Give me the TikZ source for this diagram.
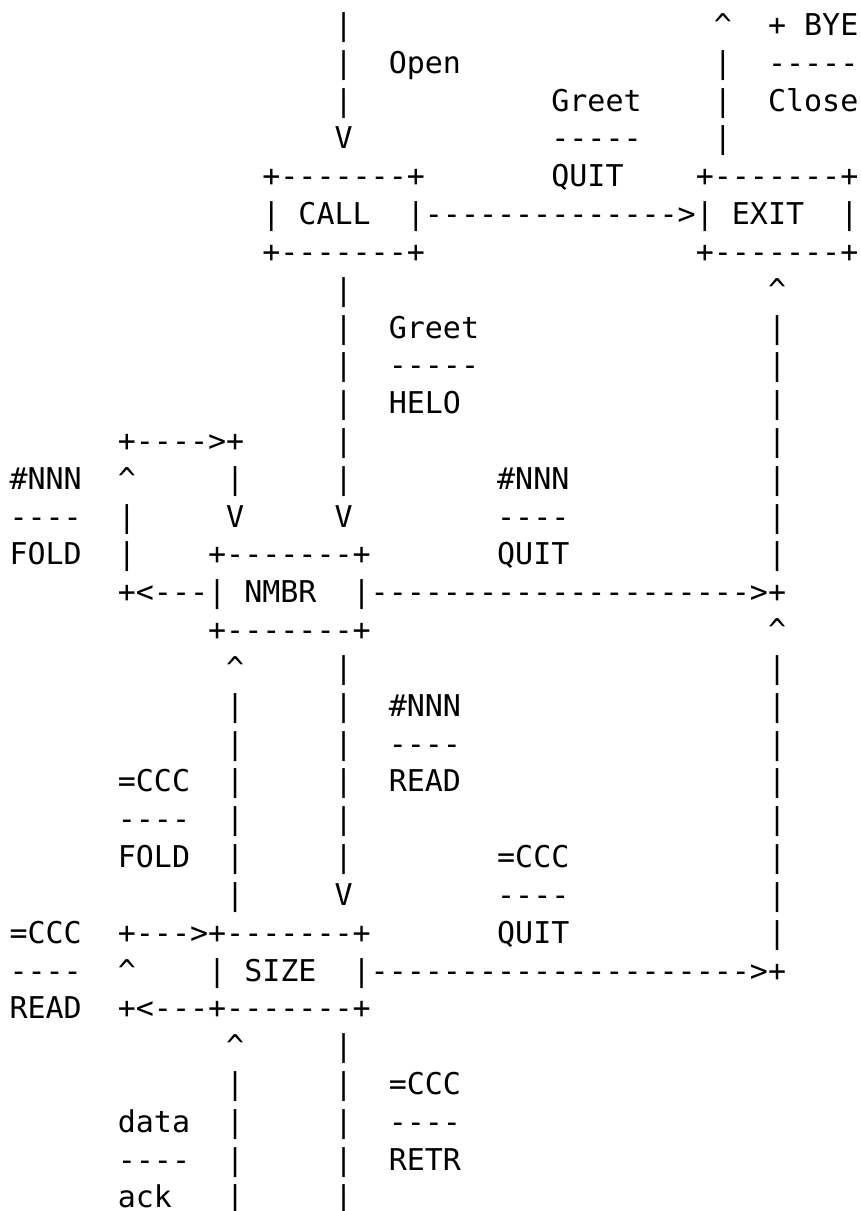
\documentclass[tikz,border=0pt]{standalone}
\usepackage{fontspec}
\setmonofont{DejaVu Sans Mono}
\usepackage{tikz}

% one blank character cell of the current (monospaced) font
\newcommand{\gap}[1]{\hspace*{#1\fontcharwd\font`M}}
\newcommand{\hatmark}{\textasciicircum}

\tikzset{
  rowtext/.style={anchor=base west, inner sep=0pt, outer sep=0pt,
    xshift=9.5pt, yshift=2.32pt,
    font=\ttfamily\fontsize{30}{37.82}\selectfont}
}

\begin{document}
\begin{tikzpicture}[x=18.06pt, y=-37.82pt]
  \useasboundingbox (0pt,0pt) rectangle (861pt,-1211pt);

  % --- CALL and EXIT
  \node[rowtext] (r1) at (18,1) {|\gap{20}\hatmark\gap{2}+\gap{1}BYE};
  \node[rowtext] (r2) at (18,2) {|\gap{2}Open\gap{14}|\gap{2}-----};
  \node[rowtext] (r3) at (18,3) {|\gap{11}Greet\gap{4}|\gap{2}Close};
  \node[rowtext] (r4) at (18,4) {V\gap{11}-----\gap{4}|};
  \node[rowtext] (r5) at (14,5) {+-------+\gap{7}QUIT\gap{4}+-------+};
  \node[rowtext] (r6) at (14,6) {|\gap{1}CALL\gap{2}|-------------->|\gap{1}EXIT\gap{2}|};
  \node[rowtext] (r7) at (14,7) {+-------+\gap{15}+-------+};
  \node[rowtext] (r8) at (18,8) {|\gap{23}\hatmark};
  \node[rowtext] (r9) at (18,9) {|\gap{2}Greet\gap{16}|};
  \node[rowtext] (r10) at (18,10) {|\gap{2}-----\gap{16}|};
  \node[rowtext] (r11) at (18,11) {|\gap{2}HELO\gap{17}|};

  % --- NMBR
  \node[rowtext] (r12) at (6,12) {+---->+\gap{5}|\gap{23}|};
  \node[rowtext] (r13) at (0,13) {\#NNN\gap{2}\hatmark\gap{5}|\gap{5}|\gap{8}\#NNN\gap{11}|};
  \node[rowtext] (r14) at (0,14) {----\gap{2}|\gap{5}V\gap{5}V\gap{8}----\gap{11}|};
  \node[rowtext] (r15) at (0,15) {FOLD\gap{2}|\gap{4}+-------+\gap{7}QUIT\gap{11}|};
  \node[rowtext] (r16) at (6,16) {+<---|\gap{1}NMBR\gap{2}|--------------------->+};
  \node[rowtext] (r17) at (11,17) {+-------+\gap{22}\hatmark};
  \node[rowtext] (r18) at (12,18) {\hatmark\gap{5}|\gap{23}|};
  \node[rowtext] (r19) at (12,19) {|\gap{5}|\gap{2}\#NNN\gap{17}|};
  \node[rowtext] (r20) at (12,20) {|\gap{5}|\gap{2}----\gap{17}|};
  \node[rowtext] (r21) at (6,21) {=CCC\gap{2}|\gap{5}|\gap{2}READ\gap{17}|};
  \node[rowtext] (r22) at (6,22) {----\gap{2}|\gap{5}|\gap{23}|};
  \node[rowtext] (r23) at (6,23) {FOLD\gap{2}|\gap{5}|\gap{8}=CCC\gap{11}|};
  \node[rowtext] (r24) at (12,24) {|\gap{5}V\gap{8}----\gap{11}|};

  % --- SIZE
  \node[rowtext] (r25) at (0,25) {=CCC\gap{2}+--->+-------+\gap{7}QUIT\gap{11}|};
  \node[rowtext] (r26) at (0,26) {----\gap{2}\hatmark\gap{4}|\gap{1}SIZE\gap{2}|--------------------->+};
  \node[rowtext] (r27) at (0,27) {READ\gap{2}+<---+-------+};
  \node[rowtext] (r28) at (12,28) {\hatmark\gap{5}|};
  \node[rowtext] (r29) at (12,29) {|\gap{5}|\gap{2}=CCC};
  \node[rowtext] (r30) at (6,30) {data\gap{2}|\gap{5}|\gap{2}----};
  \node[rowtext] (r31) at (6,31) {----\gap{2}|\gap{5}|\gap{2}RETR};
  \node[rowtext] (r32) at (6,32) {ack\gap{3}|\gap{5}|};
\end{tikzpicture}
\end{document}
